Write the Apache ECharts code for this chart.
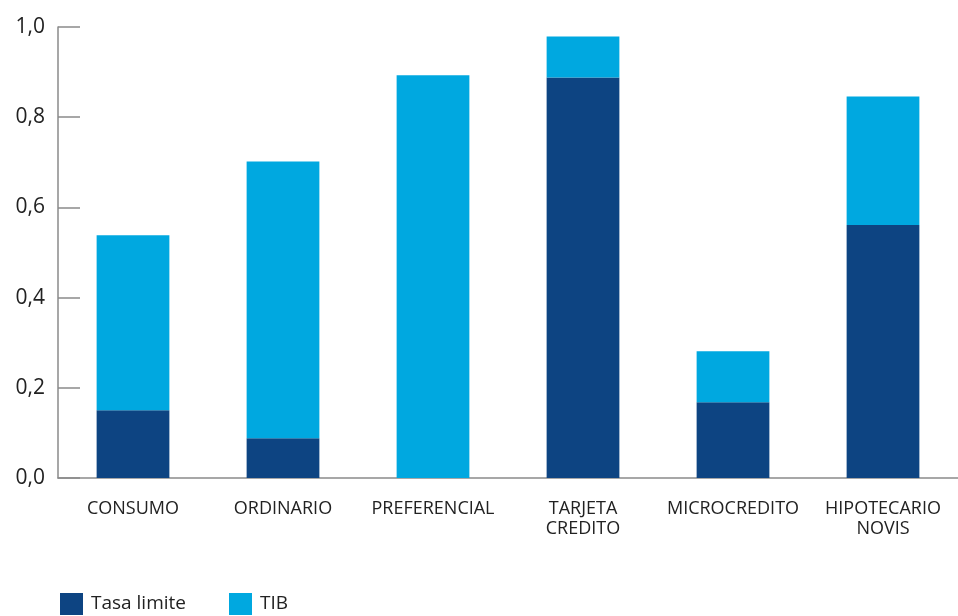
<!DOCTYPE html>
<html>
<head>
<meta charset="utf-8">
<script src="https://cdn.jsdelivr.net/npm/echarts@6/dist/echarts.min.js"></script>
<style>
  html, body { margin: 0; padding: 0; background: #fff; }
  #chart { width: 958px; height: 616px; }
</style>
</head>
<body>
<div id="chart"></div>
<script>
const categories = ['CONSUMO', 'ORDINARIO', 'PREFERENCIAL', 'TARJETA\nCREDITO', 'MICROCREDITO', 'HIPOTECARIO\nNOVIS']
const tasaLimite = [0.150, 0.088, 0, 0.888, 0.168, 0.561]
const tib = [0.388, 0.614, 0.893, 0.091, 0.113, 0.285]
const yTicks = [0, 0.2, 0.4, 0.6, 0.8, 1.0]

const chart = echarts.init(document.getElementById('chart'))

const font = 'Open Sans'

const option = {
  backgroundColor: '#fff',
  animation: false,
  textStyle: { fontFamily: font },
  legend: {
    left: 60,
    top: 593,
    padding: 0,
    itemWidth: 23,
    itemHeight: 22,
    itemGap: 43,
    icon: 'rect',
    textStyle: { fontSize: 19, color: '#222', padding: [0, 0, 0, 3] },
    data: ['Tasa limite', 'TIB']
  },
  grid: {
    left: 58,
    top: 27,
    width: 904,
    height: 451,
    containLabel: false
  },
  xAxis: {
    type: 'category',
    data: categories,
    axisLine: { lineStyle: { color: '#8a8a8a', width: 1.5 } },
    axisTick: { inside: true, length: 11, lineStyle: { color: '#8a8a8a', width: 1.5 } },
    axisLabel: {
      margin: 21,
      fontSize: 18,
      color: '#222',
      lineHeight: 20,
      interval: 0
    }
  },
  yAxis: {
    type: 'value',
    min: yTicks[0],
    max: yTicks[yTicks.length - 1],
    interval: 0.2,
    axisLine: { show: true, lineStyle: { color: '#8a8a8a', width: 1.5 } },
    axisTick: { show: true, inside: true, length: 22, lineStyle: { color: '#8a8a8a', width: 1.5 } },
    splitLine: { show: false },
    axisLabel: {
      margin: 13,
      fontSize: 21,
      color: '#222',
      formatter: v => v.toFixed(1).replace('.', ',')
    }
  },
  series: [
    {
      name: 'Tasa limite',
      type: 'bar',
      stack: 'total',
      barWidth: '48.5%',
      data: tasaLimite,
      itemStyle: { color: '#0d4482' }
    },
    {
      name: 'TIB',
      type: 'bar',
      stack: 'total',
      barWidth: '48.5%',
      data: tib,
      itemStyle: { color: '#00a8e0' }
    }
  ]
}

chart.setOption(option)
</script>
</body>
</html>
